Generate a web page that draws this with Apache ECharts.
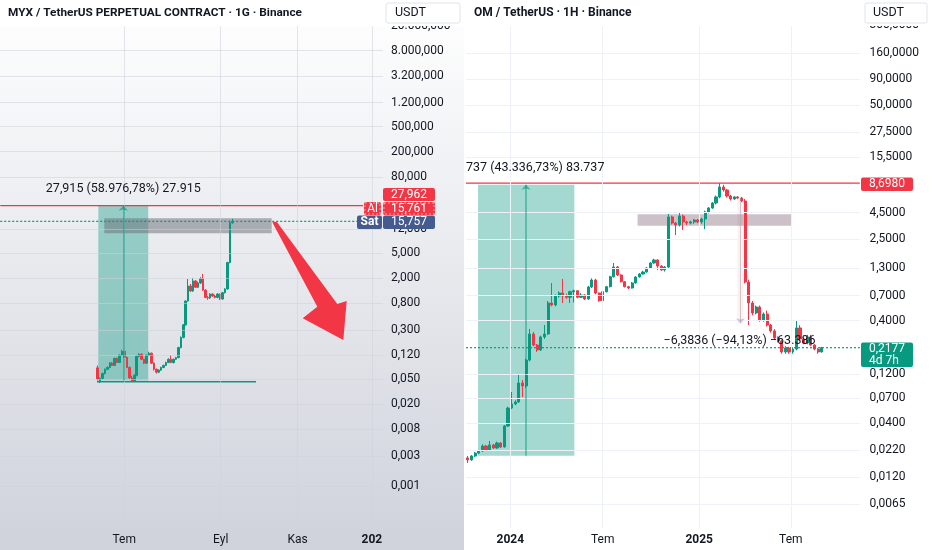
<!DOCTYPE html>
<html><head><meta charset="utf-8">
<script src="https://cdn.jsdelivr.net/npm/echarts@6/dist/echarts.min.js"></script>
<style>html,body{margin:0;padding:0;background:#fff}#c{width:932px;height:550px}</style>
</head><body><div id="c"></div>
<script>
const FONT = 'Roboto, "Noto Sans", sans-serif';

// MYX daily candles [open, close, low, high]
const myxCandles = [
 [0.075,0.050,0.047,0.082],[0.046,0.051,0.043,0.053],[0.051,0.061,0.049,0.063],[0.061,0.0711,0.059,0.073],
 [0.0711,0.076,0.069,0.079],[0.076,0.0895,0.074,0.092],[0.0895,0.082,0.080,0.093],[0.082,0.106,0.080,0.108],
 [0.106,0.091,0.089,0.109],[0.091,0.119,0.089,0.122],[0.119,0.137,0.117,0.145],[0.137,0.110,0.108,0.140],
 [0.110,0.076,0.074,0.113],[0.076,0.052,0.050,0.079],[0.052,0.046,0.045,0.056],[0.046,0.057,0.045,0.059],
 [0.057,0.1145,0.055,0.118],[0.1145,0.123,0.110,0.128],[0.123,0.1025,0.100,0.127],[0.1025,0.089,0.086,0.105],
 [0.089,0.119,0.087,0.122],[0.119,0.128,0.115,0.135],[0.128,0.089,0.086,0.131],[0.089,0.0711,0.068,0.092],
 [0.0711,0.064,0.061,0.073],[0.064,0.069,0.062,0.071],[0.069,0.076,0.067,0.078],[0.076,0.082,0.074,0.084],
 [0.082,0.091,0.080,0.094],[0.091,0.1025,0.089,0.106],[0.1025,0.091,0.089,0.118],[0.091,0.1025,0.088,0.105],
 [0.1025,0.109,0.100,0.112],[0.109,0.157,0.106,0.162],[0.157,0.228,0.153,0.236],[0.228,0.36,0.22,0.37],
 [0.36,0.86,0.35,0.88],[0.86,1.49,0.84,1.92],[1.49,1.24,1.20,1.60],[1.24,1.79,1.20,2.00],
 [1.79,1.42,1.38,1.85],[1.42,1.66,1.38,1.75],[1.66,1.93,1.60,2.05],[1.93,1.28,1.25,2.31],
 [1.28,0.98,0.95,1.32],[0.98,0.96,0.90,1.03],[0.96,1.11,0.93,1.14],[1.11,1.03,1.00,1.14],
 [1.03,0.98,0.95,1.08],[0.98,1.11,0.95,1.14],[1.11,0.925,0.89,1.13],[0.925,1.165,0.90,1.20],
 [1.165,1.335,1.13,1.37],[1.335,3.50,1.30,3.60],[3.50,15.0,3.40,16.14],[15.0,15.757,14.46,17.37]
];

// OM weekly candles [open, close, low, high]
const omCandles = [
 [0.0184,0.0176,0.0164,0.0192],[0.0176,0.0192,0.0172,0.0196],[0.0192,0.0205,0.0188,0.0210],[0.0205,0.0215,0.0200,0.0220],
 [0.0215,0.0240,0.0210,0.0250],[0.0240,0.0220,0.0215,0.0246],[0.0220,0.0246,0.0215,0.0269],[0.0246,0.0230,0.0225,0.0252],
 [0.0230,0.0257,0.0225,0.0265],[0.0257,0.0235,0.0230,0.0262],[0.0235,0.0376,0.0232,0.0385],[0.0376,0.0563,0.0370,0.0580],
 [0.0563,0.0616,0.0550,0.0806],[0.0616,0.0645,0.0600,0.0670],[0.0645,0.0987,0.0630,0.121],[0.0987,0.0923,0.0721,0.1055],
 [0.0923,0.165,0.0882,0.170],[0.165,0.296,0.160,0.331],[0.296,0.231,0.225,0.310],[0.231,0.207,0.198,0.236],
 [0.207,0.277,0.202,0.285],[0.277,0.296,0.265,0.362],[0.296,0.593,0.290,0.620],[0.593,0.567,0.550,0.929],
 [0.567,0.694,0.550,0.720],[0.694,0.742,0.670,0.770],[0.742,0.694,0.593,1.016],[0.694,0.674,0.650,0.730],
 [0.674,0.764,0.593,0.780],[0.764,0.781,0.600,0.800],[0.781,0.674,0.660,0.790],[0.674,0.710,0.665,0.740],
 [0.710,0.648,0.635,0.720],[0.648,0.849,0.640,0.870],[0.849,0.993,0.830,1.030],[0.993,0.742,0.720,1.020],
 [0.742,0.624,0.610,0.750],[0.624,0.764,0.610,0.780],[0.764,0.855,0.750,0.870],[0.855,1.069,0.840,1.090],
 [1.069,1.330,1.050,1.454],[1.330,1.111,1.090,1.360],[1.111,0.956,0.940,1.130],[0.956,0.855,0.840,0.970],
 [0.855,0.830,0.810,0.870],[0.830,0.929,0.820,0.950],[0.929,1.062,0.920,1.080],[1.062,1.136,1.050,1.160],
 [1.136,1.188,1.120,1.220],[1.188,1.300,1.170,1.330],[1.300,1.454,1.280,1.480],[1.454,1.555,1.430,1.600],
 [1.555,1.360,1.240,1.580],[1.360,1.243,1.220,1.380],[1.243,1.329,1.200,1.360],[1.329,4.08,1.27,4.36],
 [4.08,3.56,3.45,4.20],[3.56,3.41,2.72,3.65],[3.41,4.17,3.30,4.56],[4.17,3.65,3.05,4.30],
 [3.65,3.56,3.40,3.75],[3.56,3.65,3.45,3.75],[3.65,3.81,3.50,3.90],[3.81,3.65,3.55,3.90],
 [3.65,3.90,3.50,4.00],[3.90,4.56,3.10,4.70],[4.56,4.99,4.40,5.10],[4.99,5.58,4.90,5.70],
 [5.58,6.39,5.40,6.60],[6.39,7.99,6.20,8.698],[7.99,7.47,7.20,8.40],[7.47,6.53,6.30,7.60],
 [6.53,6.11,5.90,6.70],[6.11,6.39,6.00,6.50],[6.39,6.24,6.10,6.50],[6.24,5.84,5.70,6.40],
 [5.84,0.950,0.920,6.10],[0.950,0.593,0.362,1.00],[0.593,0.474,0.450,0.620],[0.474,0.542,0.460,0.560],
 [0.542,0.405,0.390,0.560],[0.405,0.463,0.390,0.480],[0.463,0.362,0.350,0.500],[0.362,0.317,0.305,0.370],
 [0.317,0.271,0.260,0.330],[0.271,0.253,0.245,0.280],[0.253,0.198,0.190,0.260],[0.198,0.216,0.190,0.225],
 [0.216,0.198,0.190,0.222],[0.198,0.211,0.190,0.220],[0.211,0.339,0.205,0.405],[0.339,0.265,0.255,0.360],
 [0.265,0.242,0.235,0.275],[0.242,0.277,0.235,0.290],[0.277,0.231,0.225,0.290],[0.231,0.211,0.205,0.236],
 [0.211,0.198,0.190,0.215],[0.198,0.2177,0.195,0.222]
];

// price-scale tick labels
const myxTickValues = [20000, 8000, 3200, 1200, 500, 200, 80, 12, 5, 2, 0.8, 0.3, 0.12, 0.05, 0.02, 0.008, 0.003, 0.001];
const myxTickLabels = ['20.000,000','8.000,000','3.200,000','1.200,000','500,000','200,000','80,000','12,000','5,000','2,000','0,800','0,300','0,120','0,050','0,020','0,008','0,003','0,001'];
const omTickValues = [300, 160, 90, 50, 27.5, 15.5, 4.5, 2.5, 1.3, 0.7, 0.4, 0.12, 0.07, 0.04, 0.022, 0.012, 0.0065];
const omTickLabels = ['300,0000','160,0000','90,0000','50,0000','27,5000','15,5000','4,5000','2,5000','1,3000','0,7000','0,4000','0,1200','0,0700','0,0400','0,0220','0,0120','0,0065'];

// time-scale tick labels (positions in bar units)
const myxTimePos = [10.9, 50.3, 81.7, 112.0];
const myxTimeLabels = ['Tem', 'Eyl', 'Kas', '202'];
const myxTimeBold = [false, false, false, true];
const omTimePos = [11.64, 36.96, 63.4, 88.5];
const omTimeLabels = ['2024', 'Tem', '2025', 'Tem'];
const omTimeBold = [true, false, true, false];

// key price levels
const myxLast = 15.757, myxHigh = 27.962, myxRangeLow = 0.0473, myxSupport = 0.0452;
const omLast = 0.2177, omHigh = 8.698, omRangeLow = 0.01932, omRangeHigh = 8.393;

const UP = '#089981', DOWN = '#f23645', TXT = '#131722';

function yTicks(values, labels, color, dist) {
  return values.map((v, i) => ({
    yAxis: v,
    lineStyle: { color: color, width: 1, type: 'solid' },
    label: { show: true, position: 'end', formatter: labels[i], distance: dist, color: TXT, fontSize: 12, fontFamily: FONT }
  }));
}
function xTicks(pos, labels, bold, color) {
  return pos.map((v, i) => ({
    xAxis: v,
    lineStyle: { color: color, width: 1, type: 'solid' },
    label: { show: true, position: 'start', formatter: labels[i], distance: 6, color: TXT, fontSize: 12, fontFamily: FONT, fontWeight: bold[i] ? 'bold' : 'normal' }
  }));
}
function seg(x1, y1, x2, y2, style, endSymbol) {
  const b = { coord: [x2, y2] };
  if (endSymbol) { b.symbol = 'arrow'; b.symbolSize = [7, 5]; }
  return [{ coord: [x1, y1], lineStyle: style, label: { show: false } }, b];
}
function priceLine(xi, yi, pts, color, width, type) {
  return { type: 'line', xAxisIndex: xi, yAxisIndex: yi, data: pts, symbol: 'none', silent: true, z: 4,
    lineStyle: { color: color, width: width, type: type }, itemStyle: { color: color }, emphasis: { disabled: true } };
}

const candleStyle = { color: UP, color0: DOWN, borderColor: UP, borderColor0: DOWN, borderWidth: 1 };

const leftGrid = 'rgba(205,209,219,0.55)';
const rightGrid = '#eef1f7';

function txt(x, y, text, opt) {
  return { type: 'text', x: x, y: y, z: 102, silent: true,
    style: Object.assign({ text: text, fill: TXT, font: '12px ' + FONT, align: 'left', verticalAlign: 'middle', textAlign: 'left', textVerticalAlign: 'middle' }, opt || {}) };
}
function box(x, y, w, h, fill, extra) {
  return { type: 'rect', z: 101, silent: true, shape: { x: x, y: y, width: w, height: h, r: 2 }, style: Object.assign({ fill: fill }, extra || {}) };
}

const graphics = [
  { type: 'rect', z: -10, silent: true, shape: { x: 0, y: 0, width: 464, height: 550 },
    style: { fill: { type: 'linear', x: 0, y: 0, x2: 0, y2: 1, colorStops: [{ offset: 0, color: '#ffffff' }, { offset: 1, color: '#cfd2db' }] } } },
  { type: 'rect', z: 100, silent: true, shape: { x: 0, y: 0, width: 464, height: 26 }, style: { fill: '#ffffff' } },
  { type: 'rect', z: 100, silent: true, shape: { x: 466, y: 0, width: 466, height: 26 }, style: { fill: '#ffffff' } },
  txt(8, 13, 'MYX / TetherUS PERPETUAL CONTRACT · 1G · Binance', { font: 'bold 11.8px ' + FONT }),
  txt(474, 13, 'OM / TetherUS · 1H · Binance', { font: 'bold 12px ' + FONT }),
  box(386, 3, 74, 20, '#ffffff', { stroke: '#e0e3eb', lineWidth: 1 }),
  txt(395, 13, 'USDT', { font: '12.5px ' + FONT }),
  box(865, 3, 62, 20, '#ffffff', { stroke: '#e0e3eb', lineWidth: 1 }),
  txt(873, 13, 'USDT', { font: '12.5px ' + FONT }),
  // left price tags
  box(383, 188, 52, 13, DOWN), txt(391, 194.5, '27,962', { fill: '#fff' }),
  box(364, 202, 17, 13, DOWN),
  { type: 'rect', z: 102, silent: true, shape: { x: 365, y: 203, width: 15, height: 11 }, style: { fill: 'none', stroke: 'rgba(255,255,255,0.55)', lineWidth: 1, lineDash: [2, 2] } },
  txt(372.5, 208.5, 'Al', { fill: '#fff', align: 'center', textAlign: 'center' }),
  box(383, 202, 52, 13, DOWN),
  { type: 'rect', z: 102, silent: true, shape: { x: 384, y: 203, width: 50, height: 11 }, style: { fill: 'none', stroke: 'rgba(255,255,255,0.55)', lineWidth: 1, lineDash: [2, 2] } },
  txt(391, 208.5, '15,761', { fill: '#fff' }),
  box(357, 215.5, 25, 13.5, '#455a8f'), txt(369.5, 222.3, 'Sat', { fill: '#fff', align: 'center', textAlign: 'center', font: 'bold 12px ' + FONT }),
  box(383, 215.5, 52, 13.5, '#455a8f'), txt(391, 222.3, '15,757', { fill: '#fff' }),
  // right price tags
  box(861, 177.5, 52, 13.5, DOWN), txt(869, 184.3, '8,6980', { fill: '#fff' }),
  box(861, 342.5, 52, 24.5, UP), txt(869, 349, '0,2177', { fill: '#fff' }), txt(869, 360.5, '4d 7h', { fill: '#fff' }),
  // annotation texts
  txt(123.3, 189, '27,915 (58.976,78%) 27.915', { align: 'center', textAlign: 'center', font: '12.5px ' + FONT }),
  txt(466, 168, '737 (43.336,73%) 83.737', { font: '12.5px ' + FONT, z: 60 }),
  txt(739.5, 341, '−6,3836 (−94,13%) −63.386', { align: 'center', textAlign: 'center', font: '12.5px ' + FONT }),
  // red arrow drawing
  { type: 'polygon', z: 50, silent: true,
    shape: { points: [[272.3, 222.3], [276.7, 221.7], [337.3, 304], [346.7, 301], [343.3, 340], [302.7, 318.3], [317.3, 306.7]] },
    style: { fill: DOWN } }
];

const option = {
  animation: false,
  backgroundColor: '#ffffff',
  textStyle: { fontFamily: FONT },
  graphic: graphics,
  grid: [
    { left: 0, top: 0, width: 383, height: 528 },
    { left: 466, top: 0, width: 394, height: 528 }
  ],
  xAxis: [
    { type: 'value', gridIndex: 0, min: -39.8, max: 116.53, show: false },
    { type: 'value', gridIndex: 1, min: -0.493, max: 107.45, show: false }
  ],
  yAxis: [
    { type: 'log', logBase: 10, gridIndex: 0, min: 0.0002166, max: 50920, show: false },
    { type: 'log', logBase: 10, gridIndex: 1, min: 0.003821, max: 528.9, show: false }
  ],
  series: [
    {
      type: 'candlestick', name: 'MYX', xAxisIndex: 0, yAxisIndex: 0, barWidth: 2, silent: true,
      data: myxCandles.map((d, i) => [i, d[0], d[1], d[2], d[3]]),
      itemStyle: candleStyle,
      markArea: { silent: true, label: { show: false }, data: [
        [{ xAxis: 0.33, yAxis: myxHigh, itemStyle: { color: 'rgba(8,153,129,0.38)' } }, { xAxis: 20.7, yAxis: myxRangeLow }],
        [{ xAxis: 2.78, yAxis: 17.6, itemStyle: { color: 'rgba(105,108,118,0.5)' } }, { xAxis: 71.1, yAxis: 10.2 }]
      ] },
      markLine: { silent: true, precision: 10, symbol: ['none', 'none'], label: { show: false }, animation: false,
        data: [].concat(
          yTicks(myxTickValues, myxTickLabels, leftGrid, 8),
          xTicks(myxTimePos, myxTimeLabels, myxTimeBold, leftGrid),
          [ seg(10.53, myxRangeLow, 10.53, myxHigh, { color: 'rgba(8,153,129,0.65)', width: 1.5, type: 'solid' }, true) ]
        ) }
    },
    {
      type: 'candlestick', name: 'OM', xAxisIndex: 1, yAxisIndex: 1, barWidth: 2.6, silent: true,
      data: omCandles.map((d, i) => [i, d[0], d[1], d[2], d[3]]),
      itemStyle: candleStyle,
      markArea: { silent: true, label: { show: false }, data: [
        [{ xAxis: 2.8, yAxis: omRangeHigh, itemStyle: { color: 'rgba(8,153,129,0.37)' } }, { xAxis: 29.2, yAxis: omRangeLow }],
        [{ xAxis: 46.5, yAxis: 4.33, itemStyle: { color: 'rgba(140,118,128,0.45)' } }, { xAxis: 88.7, yAxis: 3.355 }],
        [{ xAxis: 73.9, yAxis: 6.245, itemStyle: { color: 'rgba(242,54,69,0.08)' } }, { xAxis: 75.5, yAxis: 0.376 }]
      ] },
      markLine: { silent: true, precision: 10, symbol: ['none', 'none'], label: { show: false }, animation: false,
        data: [].concat(
          yTicks(omTickValues, omTickLabels, rightGrid, 9.5),
          xTicks(omTimePos, omTimeLabels, omTimeBold, rightGrid),
          [
            seg(15.95, omRangeLow, 15.95, omRangeHigh, { color: 'rgba(8,153,129,0.6)', width: 1.5, type: 'solid' }, true),
            seg(74.7, 6.245, 74.7, 0.376, { color: 'rgba(170,170,178,0.6)', width: 1, type: 'solid' }, true)
          ]
        ) }
    },
    priceLine(0, 0, [[-0.2, myxSupport], [64.7, myxSupport]], UP, 1.5, 'solid'),
    priceLine(0, 0, [[-39.7, myxHigh], [108.4, myxHigh]], DOWN, 1.2, 'solid'),
    priceLine(0, 0, [[-39.7, myxLast], [105.9, myxLast]], UP, 1.2, [2, 2]),
    priceLine(1, 1, [[-0.49, omHigh], [107.4, omHigh]], DOWN, 1.2, 'solid'),
    priceLine(1, 1, [[-0.49, omLast], [107.4, omLast]], UP, 1.2, [2, 2])
  ]
};

const chart = echarts.init(document.getElementById('c'));
chart.setOption(option);
</script>
</body></html>
